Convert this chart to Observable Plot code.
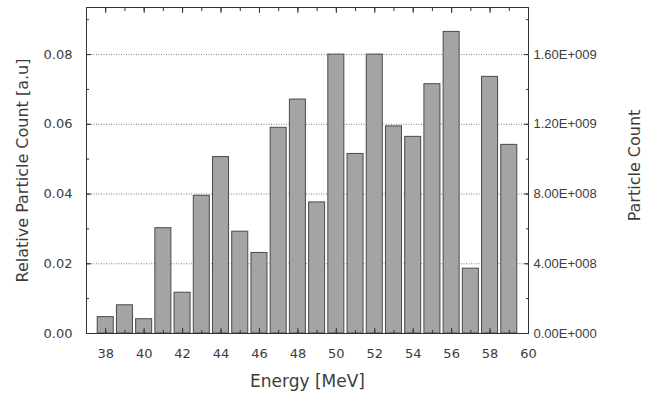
<!DOCTYPE html>
<html><head><meta charset="utf-8">
<script src="https://cdn.jsdelivr.net/npm/d3@7"></script>
<script src="https://cdn.jsdelivr.net/npm/@observablehq/plot@0.6"></script>
<style>body{margin:0;background:#fff}</style>
</head><body><div id="chart"></div>
<script>
const energy = [38,39,40,41,42,43,44,45,46,47,48,49,50,51,52,53,54,55,56,57,58,59];
const relCount = [0.0047,0.0081,0.0041,0.0302,0.0117,0.0395,0.0506,0.0292,0.0231,0.0590,0.0671,0.0376,0.0800,0.0515,0.0800,0.0594,0.0564,0.0715,0.0865,0.0186,0.0736,0.0541];
const xTicks = [38,40,42,44,46,48,50,52,54,56,58,60];
const xMinor = [38,39,40,41,42,43,44,45,46,47,48,49,50,51,52,53,54,55,56,57,58,59,60];
const yTicks = [0,0.02,0.04,0.06,0.08];
const yMinor = [0,0.01,0.02,0.03,0.04,0.05,0.06,0.07,0.08,0.09];
const countPerUnit = 2e10; // right axis: 0.08 a.u. = 1.60E+009
const xLabel = "Energy [MeV]";
const yLabel = "Relative Particle Count [a.u]";
const y2Label = "Particle Count";

const data = energy.map((e, i) => ({e, v: relCount[i]}));
function sci(v) {
  if (Math.abs(v) < 1e-9) return "0.00E+000";
  const e = Math.floor(Math.log10(v) + 1e-9);
  const m = v / Math.pow(10, e);
  return m.toFixed(2) + "E+" + String(e).padStart(3, "0");
}
const font = "'DejaVu Sans', sans-serif";
const font2 = "'Liberation Sans', Arial, sans-serif";
const axisColor = "#333";
const textColor = "#3c3c3c";
const empty = () => "";

const chart = Plot.plot({
  width: 650,
  height: 395,
  marginLeft: 86,
  marginRight: 122,
  marginTop: 7,
  marginBottom: 62,
  style: {fontFamily: font, fontSize: "13px", color: textColor, background: "#fff"},
  x: {domain: [37, 60]},
  y: {domain: [0, 0.0935]},
  marks: [
    Plot.gridY(yTicks.filter(d => d > 0), {stroke: "#808080", strokeOpacity: 1, strokeDasharray: "1,1.5"}),
    Plot.rectY(data, {x1: d => d.e - 0.5, x2: d => d.e + 0.5, y: "v", insetLeft: 1.6, insetRight: 1.6, fill: "#a4a4a4", stroke: "#4a4a4a", strokeWidth: 1}),
    // bottom axis
    Plot.axisX(xMinor, {anchor: "bottom", tickSize: -3, tickFormat: empty, label: null, stroke: axisColor}),
    Plot.axisX(xTicks, {anchor: "bottom", tickSize: -5, tickPadding: 20, label: null, stroke: axisColor, fontSize: 13, fill: textColor}),
    // top axis (ticks only)
    Plot.axisX(xMinor, {anchor: "top", tickSize: -3, tickFormat: empty, label: null, stroke: axisColor}),
    Plot.axisX(xTicks, {anchor: "top", tickSize: -5, tickFormat: empty, label: null, stroke: axisColor}),
    // left axis
    Plot.axisY(yMinor, {anchor: "left", tickSize: -3, tickFormat: empty, label: null, stroke: axisColor}),
    Plot.axisY(yTicks, {anchor: "left", tickSize: -5, tickPadding: 19, tickFormat: d => d.toFixed(2), label: null, stroke: axisColor, fontSize: 13, fill: textColor}),
    // right axis
    Plot.axisY(yMinor, {anchor: "right", tickSize: -3, tickFormat: empty, label: null, stroke: axisColor}),
    Plot.axisY(yTicks, {anchor: "right", tickSize: -5, tickPadding: 10, tickFormat: d => sci(d * countPerUnit), label: null, stroke: axisColor, fontSize: 13, fontFamily: font2, fill: textColor}),
    Plot.frame({stroke: "#333", strokeWidth: 1}),
    Plot.text([yLabel], {frameAnchor: "left", dx: -64, rotate: -90, textAnchor: "middle", lineAnchor: "middle", fontSize: 16, fill: textColor, text: d => d}),
    Plot.text([y2Label], {frameAnchor: "right", dx: 106, dy: -5, rotate: -90, textAnchor: "middle", lineAnchor: "middle", fontSize: 16, fill: textColor, text: d => d}),
    Plot.text([xLabel], {frameAnchor: "bottom", dy: 48, textAnchor: "middle", lineAnchor: "middle", fontSize: 17, fill: textColor, text: d => d})
  ]
});
document.getElementById("chart").appendChild(chart);
</script>
</body></html>
